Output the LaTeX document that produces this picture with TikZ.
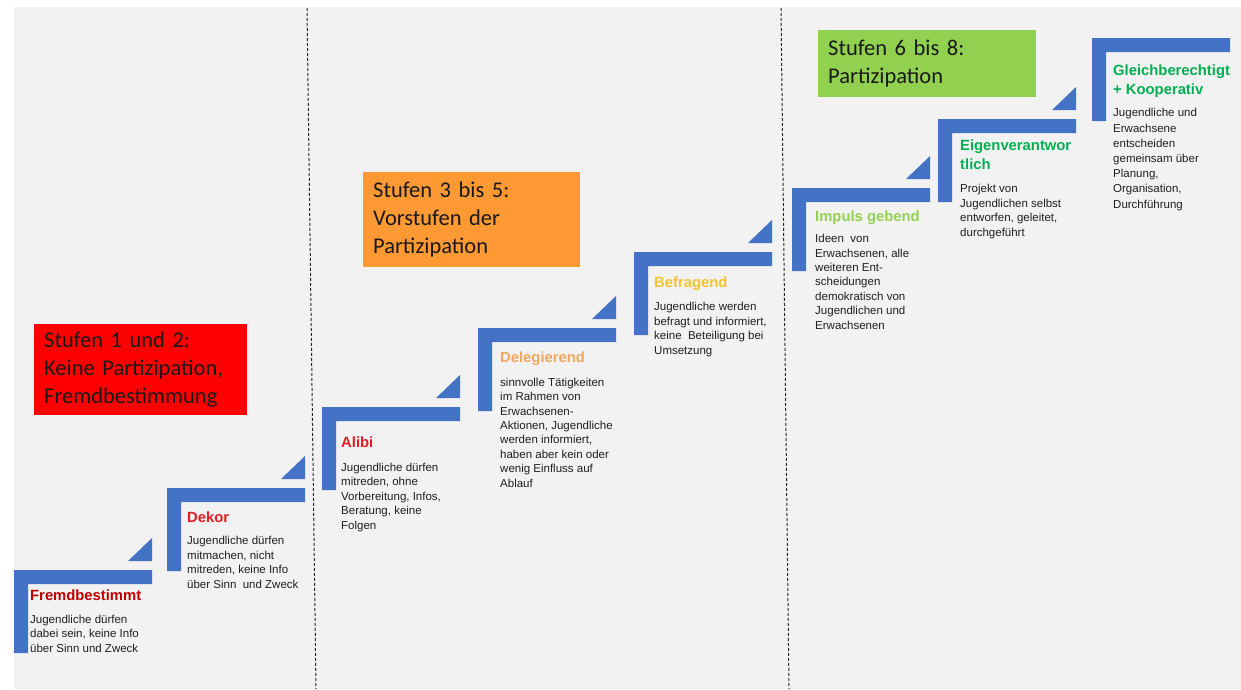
\documentclass[tikz,border=0pt]{standalone}
\usepackage{fontspec}
\setmainfont{Liberation Sans}
\newfontfamily\kastenfont{Carlito}
\usetikzlibrary{positioning}
\definecolor{stufenblau}{HTML}{4472C4}
\definecolor{hellgrau}{HTML}{F2F2F2}
\definecolor{textgrau}{HTML}{1F1F1F}
\definecolor{dunkelrot}{HTML}{C00000}
\definecolor{hellrot}{HTML}{E31B23}
\definecolor{hellorange}{HTML}{F2A65E}
\definecolor{gold}{HTML}{F5C32C}
\definecolor{hellgruen}{HTML}{92D050}
\definecolor{gruen}{HTML}{00B050}
\definecolor{kastenorange}{HTML}{FF9933}

\begin{document}
\begin{tikzpicture}[x=1pt,y=-1pt,
	stufe/.style={fill=stufenblau},
	trenner/.style={draw=black!85,line width=1pt,dash pattern=on 3pt off 2pt},
	kopf/.style={anchor=base west,inner sep=0pt,align=left,font=\bfseries\fontsize{14.8}{19}\selectfont},
	beschr/.style={anchor=base west,inner sep=0pt,align=left,text=textgrau,font=\fontsize{11.5}{14.4}\selectfont},
	gruppe/.style={anchor=north west,inner xsep=10pt,inner ysep=0pt,align=left,text=black!90,font=\kastenfont\fontsize{22.5}{28}\selectfont}]
	\useasboundingbox (0,0) rectangle (1241,689);
	\fill[hellgrau] (14,7) rectangle (1241,689);
	\draw[trenner] (307,8) -- (316,689);
	\draw[trenner] (781,8) -- (789,689);

	\foreach \x/\y [count=\n] in {14/570,167/488,322/407,478/328,634/252,792/188,938/119,1092/38}
		\fill[stufe] (\x,\y) -- ++(138,0) -- ++(0,14) -- ++(-124,0) -- ++(0,69) -- ++(-14,0) -- cycle;
	\foreach \x/\y in {14/570,167/488,322/407,478/328,634/252,792/188,938/119}
		\fill[stufe] (\x+114,\y-9) -- (\x+138,\y-9) -- (\x+138,\y-32) -- cycle;

	\node[gruppe,fill=red,text width=193pt,minimum height=91pt] (G1) at (34,324) {Stufen 1 und 2:\\Keine Partizipation,\\Fremdbestimmung};
	\node[gruppe,fill=kastenorange,text width=197pt,minimum height=95pt] (G2) at (363,172) {Stufen 3 bis 5:\\Vorstufen der\\Partizipation};
	\node[gruppe,fill=hellgruen,text width=198pt,minimum height=67pt] (G3) at (818,30) {Stufen 6 bis 8:\\Partizipation};

	\node[kopf,text=dunkelrot] (K1) at (30,600) {Fremdbestimmt};
	\node[kopf,text=hellrot] (K2) at (187,522) {Dekor};
	\node[kopf,text=hellrot] (K3) at (341,447) {Alibi};
	\node[kopf,text=hellorange] (K4) at (500,362) {Delegierend};
	\node[kopf,text=gold] (K5) at (654,287) {Befragend};
	\node[kopf,text=hellgruen] (K6) at (815,221) {Impuls gebend};
	\node[kopf,text=gruen] (K7) at (960,169) {Eigenverantwor\\tlich};
	\node[kopf,text=gruen] (K8) at (1113,94) {Gleichberechtigt\\+ Kooperativ};

	\node[beschr] (T1) at (30,652) {Jugendliche dürfen\\dabei sein, keine Info\\über Sinn und Zweck};
	\node[beschr] (T2) at (187,588) {Jugendliche dürfen\\mitmachen, nicht\\mitreden, keine Info\\über Sinn~ und Zweck};
	\node[beschr] (T3) at (341,529) {Jugendliche dürfen\\mitreden, ohne\\Vorbereitung, Infos,\\Beratung, keine\\Folgen};
	\node[beschr] (T4) at (500,487) {sinnvolle Tätigkeiten\\im Rahmen von\\Erwachsenen-\\Aktionen, Jugendliche\\werden informiert,\\haben aber kein oder\\wenig Einfluss auf\\Ablauf};
	\node[beschr] (T5) at (654,354) {Jugendliche werden\\befragt und informiert,\\keine~ Beteiligung bei\\Umsetzung};
	\node[beschr] (T6) at (815,329) {Ideen~ von\\Erwachsenen, alle\\weiteren Ent-\\scheidungen\\demokratisch von\\Jugendlichen und\\Erwachsenen};
	\node[beschr] (T7) at (960,236) {Projekt von\\Jugendlichen selbst\\entworfen, geleitet,\\durchgeführt};
	\node[beschr,font=\fontsize{11.5}{15.2}\selectfont] (T8) at (1113,208) {Jugendliche und\\Erwachsene\\entscheiden\\gemeinsam über\\Planung,\\Organisation,\\Durchführung};
\end{tikzpicture}
\end{document}
